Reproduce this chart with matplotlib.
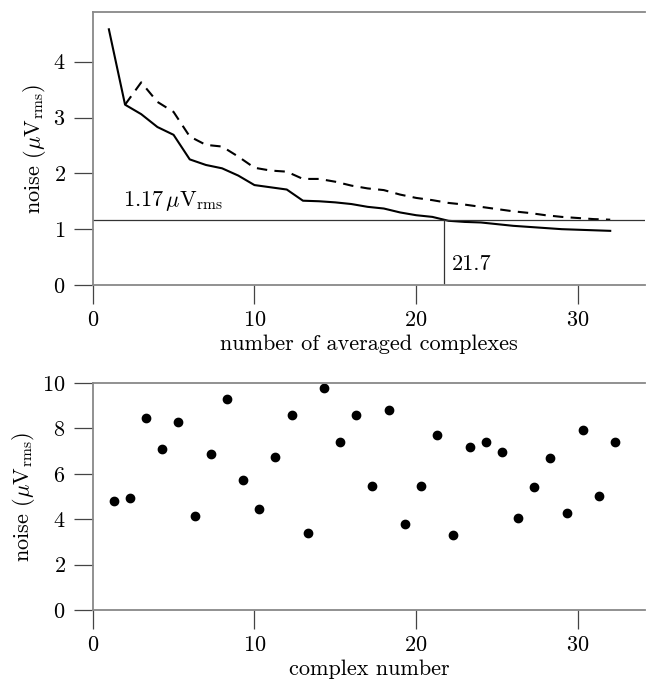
import matplotlib
matplotlib.use("Agg")
import matplotlib.pyplot as plt

plt.rcParams['font.family'] = ['cmr10', 'DejaVu Serif']
plt.rcParams['mathtext.fontset'] = 'cm'
plt.rcParams['axes.formatter.use_mathtext'] = True
plt.rcParams['font.size'] = 16

# ---- data ----
n_avg = list(range(1, 33))
noise_avg = [4.58, 3.23, 3.06, 2.83, 2.69, 2.25, 2.15, 2.09, 1.96, 1.79,
             1.75, 1.71, 1.51, 1.50, 1.48, 1.45, 1.40, 1.37, 1.30, 1.25,
             1.22, 1.15, 1.13, 1.12, 1.09, 1.06, 1.04, 1.02, 1.00, 0.99,
             0.98, 0.97]
n_avg_dashed = list(range(2, 33))
noise_dashed = [3.23, 3.63, 3.28, 3.10, 2.66, 2.51, 2.48, 2.30, 2.10, 2.05,
                2.03, 1.90, 1.90, 1.85, 1.78, 1.73, 1.70, 1.62, 1.56, 1.52,
                1.47, 1.44, 1.40, 1.36, 1.32, 1.29, 1.25, 1.22, 1.20, 1.18,
                1.17]
threshold = 1.17
threshold_n = 21.7

complex_pos = [1.3, 2.3, 3.3, 4.3, 5.3, 6.3, 7.3, 8.3, 9.3, 10.3, 11.3, 12.3,
               13.3, 14.3, 15.3, 16.3, 17.3, 18.3, 19.3, 20.3, 21.3, 22.3,
               23.3, 24.3, 25.3, 26.3, 27.3, 28.3, 29.3, 30.3, 31.3, 32.3]
noise_single = [4.80, 4.92, 8.44, 7.08, 8.30, 4.14, 6.87, 9.28, 5.73, 4.44,
                6.73, 8.58, 3.38, 9.79, 7.40, 8.57, 5.46, 8.81, 3.77, 5.46,
                7.70, 3.29, 7.18, 7.39, 6.96, 4.05, 5.43, 6.71, 4.29, 7.95,
                5.04, 7.39]

xticks = [0, 10, 20, 30]
yticks_top = [0, 1, 2, 3, 4]
yticks_bot = [0, 2, 4, 6, 8, 10]

fig = plt.figure(figsize=(6.48, 6.80), dpi=100)
W, H = 648, 680
def ax_rect(l, t, r, b):
    return [l / W, 1 - b / H, (r - l) / W, (b - t) / H]

ax1 = fig.add_axes(ax_rect(92.7, 12, 645, 285))
ax2 = fig.add_axes(ax_rect(92.7, 383, 645, 610))

spine_c = '#888888'
for ax in (ax1, ax2):
    ax.spines['right'].set_visible(False)
    for s in ('left', 'bottom', 'top'):
        ax.spines[s].set_color(spine_c)
        ax.spines[s].set_linewidth(1.3)
    ax.tick_params(direction='out', length=13.5, width=0.9, color='#444444',
                   labelsize=16)
    ax.tick_params(axis='x', pad=5)
    ax.tick_params(axis='y', pad=6)
    ax.set_xlim(0, 34.15)
    ax.set_xticks(xticks)
    ax.set_ylabel(r'noise ($\mu\mathrm{V}_{\mathrm{rms}}$)', fontsize=16,
                  labelpad=4)

# top panel
ax1.plot(n_avg_dashed, noise_dashed, color='black', lw=1.5, ls=(0, (5, 3.5)))
ax1.plot(n_avg, noise_avg, color='black', lw=1.5)
ax1.axhline(threshold, color='#333333', lw=0.9)
ax1.plot([threshold_n, threshold_n], [0, threshold], color='#333333', lw=0.9)
ax1.text(1.9, threshold + 0.12, r'1.17$\,\mu\mathrm{V}_{\mathrm{rms}}$',
         fontsize=16, ha='left', va='bottom')
ax1.text(threshold_n + 0.5, 0.2, '21.7', fontsize=16, ha='left', va='bottom')
ax1.set_ylim(0, 4.89)
ax1.set_yticks(yticks_top)
ax1.set_xlabel('number of averaged complexes', fontsize=16, labelpad=3)

# bottom panel
ax2.plot(complex_pos, noise_single, 'o', color='black', markersize=6)
ax2.set_ylim(0, 10)
ax2.set_yticks(yticks_bot)
ax2.set_xlabel('complex number', fontsize=16, labelpad=3)

fig.savefig('out.png', dpi=100)
